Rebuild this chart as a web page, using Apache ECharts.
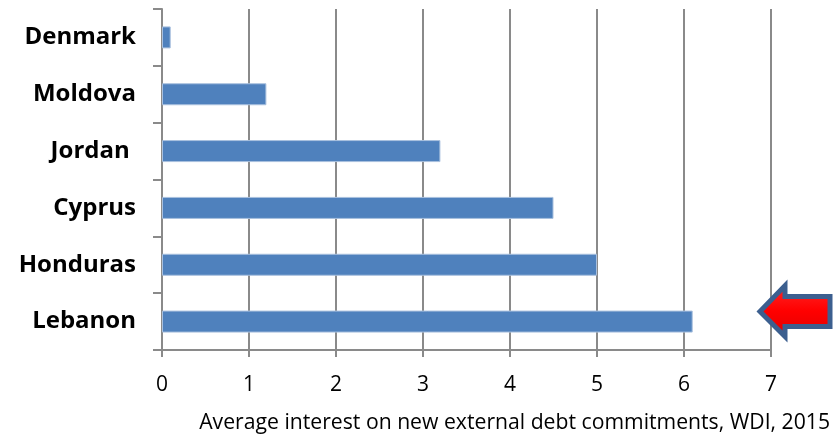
<!DOCTYPE html>
<html>
<head>
<meta charset="utf-8">
<script src="https://cdn.jsdelivr.net/npm/echarts@6/dist/echarts.min.js"></script>
<style>
  html, body { margin: 0; padding: 0; background: #fff; }
  #chart { width: 836px; height: 440px; }
</style>
</head>
<body>
<div id="chart"></div>
<script>
// Countries, top to bottom
const countries = ['Denmark', 'Moldova', 'Jordan ', 'Cyprus', 'Honduras', 'Lebanon'];
// Average interest rate on new external debt commitments (%)
const interestRates = [0.1, 1.2, 3.2, 4.5, 5.0, 6.1];
// Value axis ticks
const axisMin = 0;
const axisMax = 7;
const axisStep = 1;
const caption = 'Average interest on new external debt commitments, WDI, 2015';
const highlighted = 'Lebanon';

const gray = '#8a8a8a';
const chart = echarts.init(document.getElementById('chart'), null, { renderer: 'canvas' });

chart.setOption({
  animation: false,
  backgroundColor: '#fff',
  title: {
    text: caption,
    right: 1,
    top: 407,
    textStyle: { fontFamily: 'Open Sans', fontSize: 21.2, fontWeight: 'normal', color: '#000' }
  },
  grid: { left: 162, right: 65, top: 9, bottom: 90, containLabel: false },
  xAxis: {
    type: 'value',
    min: axisMin,
    max: axisMax,
    interval: axisStep,
    axisLine: { show: true, lineStyle: { color: gray, width: 2 } },
    axisTick: { show: true, length: 7, lineStyle: { color: gray, width: 2 } },
    splitLine: { show: true, lineStyle: { color: gray, width: 2 } },
    axisLabel: { color: '#000', fontFamily: 'Open Sans', fontSize: 21, margin: 25 }
  },
  yAxis: {
    type: 'category',
    data: countries,
    inverse: true,
    axisLine: { show: true, lineStyle: { color: gray, width: 2 } },
    axisTick: { show: true, length: 9, lineStyle: { color: gray, width: 2 } },
    axisLabel: { color: '#000', fontFamily: 'Open Sans', fontWeight: 'bold', fontSize: 24, margin: 26 }
  },
  series: [{
    type: 'bar',
    data: interestRates,
    barWidth: 22,
    itemStyle: { color: '#4F81BD', borderColor: '#a9c0de', borderWidth: 1 }
  }]
});

// Block arrow pointing at the highlighted country, placed from the axes' scales
function drawArrow() {
  const idx = countries.indexOf(highlighted);
  const tipPt = chart.convertToPixel({ gridIndex: 0 }, [axisMax, idx]);
  const tx = tipPt[0] - 11;
  const ty = tipPt[1] - 10;
  const pts = [
    [tx, ty],
    [tx + 25, ty - 26],
    [tx + 25, ty - 15],
    [tx + 70, ty - 15],
    [tx + 70, ty + 15],
    [tx + 25, ty + 15],
    [tx + 25, ty + 25]
  ];
  chart.setOption({
    graphic: [{
      type: 'polygon',
      shape: { points: pts },
      style: {
        fill: new echarts.graphic.LinearGradient(0, 0, 0, 1, [
          { offset: 0, color: '#ff2a2a' },
          { offset: 0.5, color: '#ff0000' },
          { offset: 1, color: '#e00000' }
        ]),
        stroke: '#3c5f8f',
        lineWidth: 5,
        lineJoin: 'miter'
      },
      z: 100
    }]
  });
}
drawArrow();
</script>
</body>
</html>
